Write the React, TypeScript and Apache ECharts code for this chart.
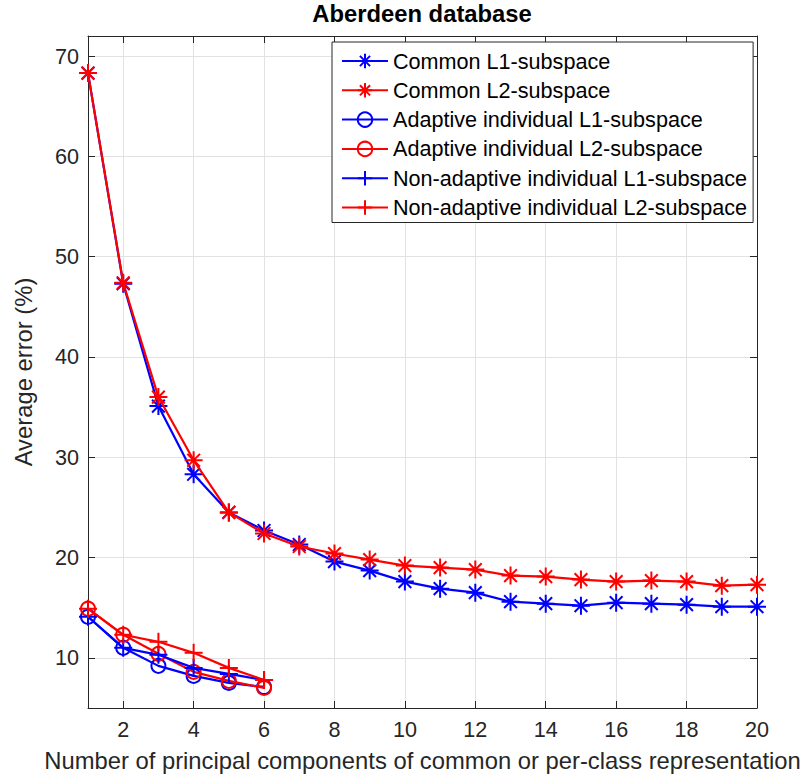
import React, { useEffect, useRef } from 'react';
import * as echarts from 'echarts';

const xValues = [1, 2, 3, 4, 5, 6, 7, 8, 9, 10, 11, 12, 13, 14, 15, 16, 17, 18, 19, 20];
const commonL1 = [68.3, 47.3, 35.1, 28.3, 24.5, 22.7, 21.3, 19.6, 18.7, 17.6, 16.9, 16.5, 15.6, 15.4, 15.2, 15.5, 15.4, 15.3, 15.1, 15.1];
const commonL2 = [68.3, 47.4, 36.0, 29.7, 24.5, 22.4, 21.1, 20.4, 19.8, 19.2, 19.0, 18.8, 18.2, 18.1, 17.8, 17.6, 17.7, 17.6, 17.2, 17.3];
const adaptiveL1 = [14.1, 11.0, 9.2, 8.2, 7.5, 7.1];
const adaptiveL2 = [14.9, 12.3, 10.4, 8.6, 7.7, 7.0];
const nonAdaptiveL1 = [14.1, 11.0, 10.3, 9.0, 8.4, 7.8];
const nonAdaptiveL2 = [14.9, 12.3, 11.6, 10.5, 9.0, 7.8];

const seriesNames = [
  'Common L1-subspace',
  'Common L2-subspace',
  'Adaptive individual L1-subspace',
  'Adaptive individual L2-subspace',
  'Non-adaptive individual L1-subspace',
  'Non-adaptive individual L2-subspace',
];

const titleText = 'Aberdeen database';
const xAxisName = 'Number of principal components of common or per-class representation';
const yAxisName = 'Average error (%)';

const BLUE = '#0000ff';
const RED = '#ff0000';
const STAR = 'path://M0,-1L0,1M-1,0L1,0M-0.707,-0.707L0.707,0.707M-0.707,0.707L0.707,-0.707';
const PLUS = 'path://M0,-1L0,1M-1,0L1,0';
const FONT = "'Liberation Sans', Arial, Helvetica, sans-serif";
const AX = '#262626';

export default function App() {
  const ref = useRef<HTMLDivElement>(null);
  useEffect(() => {
    document.body.style.margin = '0';
    const chart = echarts.init(ref.current!, null, { renderer: 'svg' });
    const values = [commonL1, commonL2, adaptiveL1, adaptiveL2, nonAdaptiveL1, nonAdaptiveL2];
    const colors = [BLUE, RED, BLUE, RED, BLUE, RED];
    const symbols = [STAR, STAR, 'circle', 'circle', PLUS, PLUS];
    const sizes = [18, 18, 14, 14, 18, 18];
    const series = values.map((vals, i) => ({
      type: 'line',
      name: seriesNames[i],
      data: vals.map((v, j) => [xValues[j], v]),
      symbol: symbols[i],
      symbolSize: sizes[i],
      showAllSymbol: true,
      clip: false,
      lineStyle: { color: colors[i], width: 2.2 },
      itemStyle: { color: 'rgba(0,0,0,0)', borderColor: colors[i], borderWidth: 2 },
      emphasis: { disabled: true },
      z: 2 + i,
    }));
    const axisCommon = {
      axisLine: { show: true, lineStyle: { color: AX, width: 1 } },
      axisTick: { show: true, inside: true, length: 7, lineStyle: { color: AX } },
    };
    const option = {
      animation: false,
      textStyle: { fontFamily: FONT },
      title: {
        text: titleText,
        left: 422,
        top: 1,
        padding: 0,
        textAlign: 'center',
        textStyle: { fontFamily: FONT, fontSize: 23.8, fontWeight: 'bold', color: '#000' },
      },
      grid: { left: 88, right: 47, top: 36, bottom: 68, containLabel: false },
      legend: {
        orient: 'vertical',
        left: 332,
        top: 42,
        padding: [8, 6, 4, 9],
        itemWidth: 46,
        itemHeight: 18,
        itemGap: 7.3,
        backgroundColor: '#fff',
        borderColor: AX,
        borderWidth: 1,
        borderRadius: 0,
        selectedMode: false,
        textStyle: { fontFamily: FONT, fontSize: 21.6, color: '#000', lineHeight: 22, padding: [0, 0, 0, 0] },
        data: seriesNames.map((n, i) => ({
          name: n,
          itemStyle: { color: 'rgba(0,0,0,0)', borderColor: colors[i], borderWidth: 2 },
        })),
      },
      xAxis: [
        {
          type: 'value',
          min: 1,
          max: 20,
          splitNumber: 10,
          name: xAxisName,
          nameLocation: 'middle',
          nameGap: 40,
          nameTextStyle: { fontFamily: FONT, fontSize: 23.8, color: AX },
          axisLabel: { showMinLabel: false, fontFamily: FONT, fontSize: 21.6, color: AX, margin: 10 },
          splitLine: { show: true, lineStyle: { color: '#e2e2e2', width: 1 } },
          ...axisCommon,
        },
        {
          type: 'value',
          position: 'top',
          min: 1,
          max: 20,
          splitNumber: 10,
          axisLabel: { show: false },
          splitLine: { show: false },
          ...axisCommon,
        },
      ],
      yAxis: [
        {
          type: 'value',
          min: 5,
          max: 72,
          name: yAxisName,
          nameLocation: 'middle',
          nameGap: 53,
          nameTextStyle: { fontFamily: FONT, fontSize: 23.8, color: AX },
          axisLabel: { showMinLabel: false, showMaxLabel: false, fontFamily: FONT, fontSize: 21.6, color: AX, margin: 9 },
          splitLine: { show: true, lineStyle: { color: '#e2e2e2', width: 1 } },
          ...axisCommon,
        },
        {
          type: 'value',
          position: 'right',
          min: 5,
          max: 72,
          axisLabel: { show: false },
          splitLine: { show: false },
          ...axisCommon,
        },
      ],
      series,
    };
    chart.setOption(option as any);
    return () => chart.dispose();
  }, []);
  return <div ref={ref} style={{ position: 'absolute', left: 0, top: 0, width: 804, height: 777 }} />;
}
